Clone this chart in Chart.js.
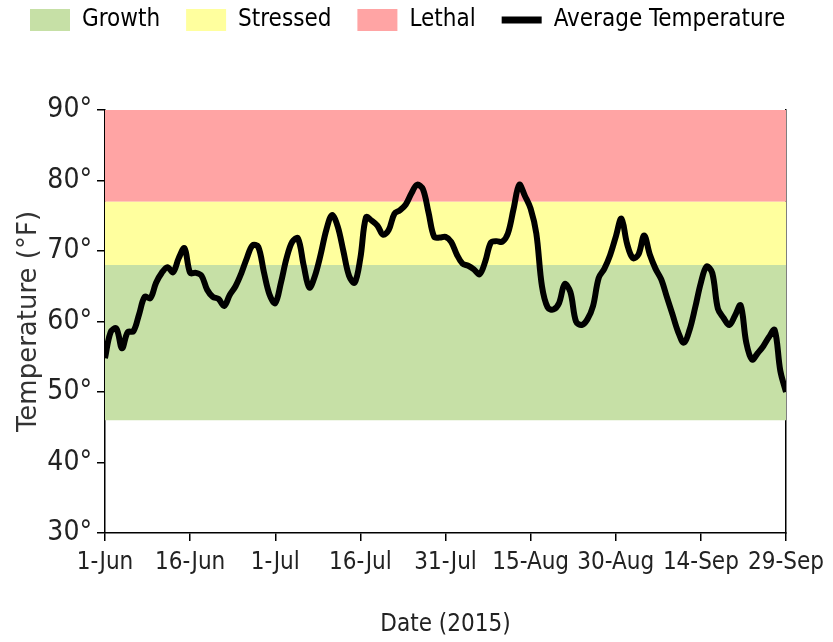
<!DOCTYPE html>
<html lang="en">
<head>
    <meta charset="UTF-8">
    <title>Average Temperature 2015</title>
    <script src="https://cdn.jsdelivr.net/npm/chart.js"></script>
    <style>
        body {
            margin: 0;
            background-color: #fff;
        }
        .chart-container {
            width: 833px;
            height: 642px;
        }
    </style>
</head>
<body>
    <div class="chart-container">
        <canvas id="tempChart" width="833" height="642"></canvas>
    </div>

    <script>
        // daily average temperature (°F), one value per day from 1-Jun to 29-Sep 2015
        const temps = [
            54.8, 58.5, 59.0, 56.2, 58.5, 58.6, 61.0, 63.5, 63.3, 65.5,
            66.9, 67.7, 67.0, 69.0, 70.4, 66.9, 66.9, 66.5, 64.5, 63.5,
            63.2, 62.2, 63.8, 65.0, 66.8, 69.0, 70.8, 70.6, 67.0, 63.8,
            62.6, 65.5, 69.0, 71.3, 71.8, 68.0, 64.8, 66.5, 69.5, 73.0,
            75.1, 73.5, 70.0, 66.5, 65.5, 69.0, 74.8, 74.3, 73.6, 72.3,
            73.0, 75.3, 75.8, 76.6, 78.2, 79.4, 78.8, 75.5, 72.0, 71.9,
            72.0, 71.3, 69.5, 68.2, 67.9, 67.4, 66.7, 68.5, 71.2, 71.4,
            71.3, 72.5, 76.0, 79.4, 77.8, 76.0, 72.5, 65.0, 62.0, 61.7,
            62.6, 65.3, 64.2, 60.0, 59.5, 60.3, 62.2, 66.2, 67.5, 69.4,
            72.0, 74.6, 71.0, 69.0, 69.5, 72.2, 69.5, 67.5, 66.0, 63.5,
            61.0, 58.5, 57.0, 58.8, 62.0, 65.5, 67.8, 66.9, 61.8, 60.5,
            59.5, 60.8, 62.3, 57.0, 54.6, 55.5, 56.5, 57.8, 58.8, 53.0,
            50.0
        ];

        // x tick labels, one every 15 days
        const tickLabels = ['1-Jun', '16-Jun', '1-Jul', '16-Jul', '31-Jul', '15-Aug', '30-Aug', '14-Sep', '29-Sep'];
        const tickStep = 15;

        // temperature zones
        const bandNames = ['Growth', 'Stressed', 'Lethal'];
        const bandLow = [46, 68, 77];
        const bandHigh = [68, 77, 90];
        const bandColors = ['#c6e0a6', '#ffff9e', '#ffa4a4'];

        const lastDay = temps.length - 1;
        const narrow = "'Liberation Sans Narrow', 'DejaVu Sans Condensed', sans-serif";

        const datasets = bandNames.map((name, i) => ({
            label: name,
            data: [{ x: 0, y: bandHigh[i] }, { x: lastDay, y: bandHigh[i] }],
            fill: { value: bandLow[i] },
            backgroundColor: bandColors[i],
            borderColor: 'transparent',
            borderWidth: 0,
            pointRadius: 0,
            order: 2
        }));

        datasets.push({
            label: 'Average Temperature',
            data: temps.map((t, i) => ({ x: i, y: t })),
            borderColor: '#000',
            backgroundColor: '#000',
            borderWidth: 6,
            pointRadius: 0,
            tension: 0.35,
            fill: false,
            order: 1
        });

        // make the legend box tall enough to push the plot down
        const legendHeight = {
            id: 'legendHeight',
            afterInit(chart) {
                const lg = chart.legend;
                const fit = lg.fit;
                lg.fit = function () {
                    fit.call(this);
                    this.height = 128;
                };
            }
        };

        const ctx = document.getElementById('tempChart').getContext('2d');

        new Chart(ctx, {
            type: 'line',
            data: { datasets: datasets },
            plugins: [legendHeight],
            options: {
                responsive: false,
                animation: false,
                layout: {
                    padding: { top: -18, left: 4, right: 0, bottom: 0 }
                },
                plugins: {
                    tooltip: { enabled: false },
                    legend: {
                        position: 'top',
                        align: 'start',
                        labels: {
                            usePointStyle: true,
                            pointStyleWidth: 40,
                            boxHeight: 22,
                            padding: 26,
                            color: '#222',
                            font: { family: narrow, size: 24 },
                            generateLabels(chart) {
                                return chart.data.datasets.map((ds, i) => {
                                    const isLine = ds.label === 'Average Temperature';
                                    return {
                                        text: ds.label,
                                        fillStyle: isLine ? '#000' : ds.backgroundColor,
                                        strokeStyle: isLine ? '#000' : ds.backgroundColor,
                                        lineWidth: isLine ? 7 : 0,
                                        pointStyle: isLine ? 'line' : 'rect',
                                        hidden: false,
                                        datasetIndex: i
                                    };
                                });
                            }
                        }
                    }
                },
                scales: {
                    x: {
                        type: 'linear',
                        min: 0,
                        max: lastDay,
                        afterFit(scale) { scale.height = 109; },
                        ticks: {
                            stepSize: tickStep,
                            autoSkip: false,
                            maxRotation: 0,
                            padding: 7,
                            color: '#222',
                            font: { family: narrow, size: 24 },
                            callback: value => tickLabels[Math.round(value / tickStep)]
                        },
                        grid: {
                            drawOnChartArea: false,
                            tickLength: 8,
                            color: '#000',
                            lineWidth: 1.5
                        },
                        border: { color: '#000', width: 1.5 },
                        title: {
                            display: true,
                            text: 'Date (2015)',
                            color: '#222',
                            font: { family: narrow, size: 24 },
                            padding: { top: 0, bottom: 3 }
                        }
                    },
                    y: {
                        min: 30,
                        max: 90,
                        afterFit(scale) { scale.width = 101; },
                        ticks: {
                            stepSize: 10,
                            padding: 5,
                            color: '#222',
                            font: { family: narrow, size: 28 },
                            callback: value => value + '°'
                        },
                        grid: {
                            drawOnChartArea: false,
                            tickLength: 8,
                            color: '#000',
                            lineWidth: 1.5
                        },
                        border: { color: '#000', width: 1.5 },
                        title: {
                            display: true,
                            text: 'Temperature (°F)',
                            color: '#333',
                            font: { family: "'DejaVu Sans', sans-serif", size: 26 },
                            padding: { top: 10, bottom: 0 }
                        }
                    },
                    yRight: {
                        position: 'right',
                        min: 30,
                        max: 90,
                        afterFit(scale) { scale.width = 47; },
                        ticks: { display: false },
                        grid: { display: false },
                        border: { display: true, color: '#000', width: 1.5 }
                    }
                }
            }
        });
    </script>
</body>
</html>
